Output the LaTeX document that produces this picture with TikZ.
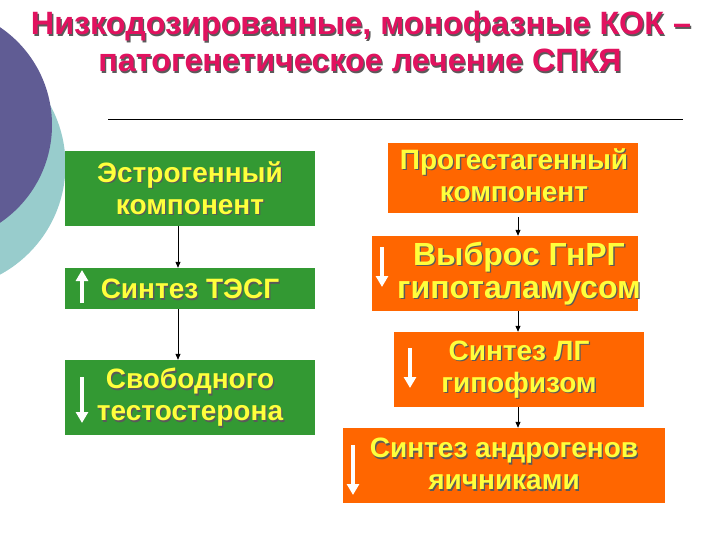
\documentclass[tikz,border=0pt]{standalone}
\usepackage{fontspec}
\setmainfont{Liberation Sans}
\usetikzlibrary{arrows.meta}
\definecolor{purplec}{RGB}{96,92,148}
\definecolor{tealc}{RGB}{152,204,204}
\definecolor{boxgreen}{RGB}{51,153,51}
\definecolor{boxorange}{RGB}{255,102,0}
\definecolor{boxyellow}{RGB}{255,255,60}
\definecolor{titlec}{RGB}{225,18,95}
\definecolor{shadowc}{RGB}{90,90,90}
\newcommand\shd[1]{\leavevmode\rlap{\kern1.3pt\raisebox{-1.3pt}{\textcolor{shadowc}{#1}}}#1}
\begin{document}
\begin{tikzpicture}[x=1pt,y=-1pt,
  gbox/.style={fill=boxgreen, minimum width=250pt, inner sep=0pt},
  obox/.style={fill=boxorange, inner sep=0pt},
  btext/.style={text=boxyellow, font=\bfseries\fontsize{28}{32}\selectfont, align=center, inner sep=0pt},
  titletext/.style={text=titlec, font=\bfseries\fontsize{32.3}{37}\selectfont, inner sep=0pt, anchor=base},
  link/.style={-{Triangle[width=5pt,length=6pt]}, line width=0.8pt},
  warrow/.style={white, line width=4pt, -{Triangle[width=12pt,length=11pt]}}]
\useasboundingbox (0,0) rectangle (720,540);
\fill[tealc] (-59,165) circle[radius=124.5];
\fill[purplec] (-66,125) circle[radius=118];
\node[titletext] (title1) at (361,35) {\shd{Низкодозированные, монофазные КОК –}};
\node[titletext] (title2) at (360,72) {\shd{патогенетическое лечение СПКЯ}};
\draw[line width=1pt] (108,120) -- (683,120);
% boxes
\node[gbox, minimum height=75pt] (g1) at (190,188.5) {};
\node[gbox, minimum height=41pt] (g2) at (190,288.5) {};
\node[gbox, minimum height=75pt] (g3) at (190,397.5) {};
\node[obox, minimum width=250pt, minimum height=70pt] (o1) at (513,178) {};
\node[obox, minimum width=266pt, minimum height=75pt] (o2) at (505,273.5) {};
\node[obox, minimum width=250pt, minimum height=75pt] (o3) at (519,369.5) {};
\node[obox, minimum width=322pt, minimum height=75pt] (o4) at (504,465.5) {};
% texts
\node[btext] (tg1) at (190,189) {\shd{Эстрогенный}\\\shd{компонент}};
\node[btext] (tg2) at (190,290) {\shd{Синтез ТЭСГ}};
\node[btext] (tg3) at (190,398) {\shd{Свободного}\\\shd{тестостерона}};
\node[btext] (to1) at (514,176) {\shd{Прогестагенный}\\\shd{компонент}};
\node[btext, font=\bfseries\fontsize{32}{33}\selectfont] (to2) at (519,274) {\shd{Выброс ГнРГ}\\\shd{гипоталамусом}};
\node[btext] (to3) at (519,370) {\shd{Синтез ЛГ}\\\shd{гипофизом}};
\node[btext] (to4) at (504,465) {\shd{Синтез андрогенов}\\\shd{яичниками}};
% connectors
\draw[link] ([xshift=-12pt]g1.south) -- ([xshift=-12pt]g2.north);
\draw[link] ([xshift=-12pt]g2.south) -- ([xshift=-12pt]g3.north);
\draw[link] ([xshift=5pt,yshift=-4pt]o1.south) -- ([xshift=13pt]o2.north);
\draw[link] ([xshift=13pt]o2.south) -- ([xshift=-1pt]o3.north);
\draw[link] ([xshift=-1pt]o3.south) -- ([xshift=14pt]o4.north);
% white arrows
\draw[warrow] (82,303) -- (82,270);
\draw[warrow] (82,377) -- (82,423);
\draw[warrow] (382,247) -- (382,287);
\draw[warrow] (410,348) -- (410,388);
\draw[warrow] (353,445) -- (353,495);
\end{tikzpicture}
\end{document}
